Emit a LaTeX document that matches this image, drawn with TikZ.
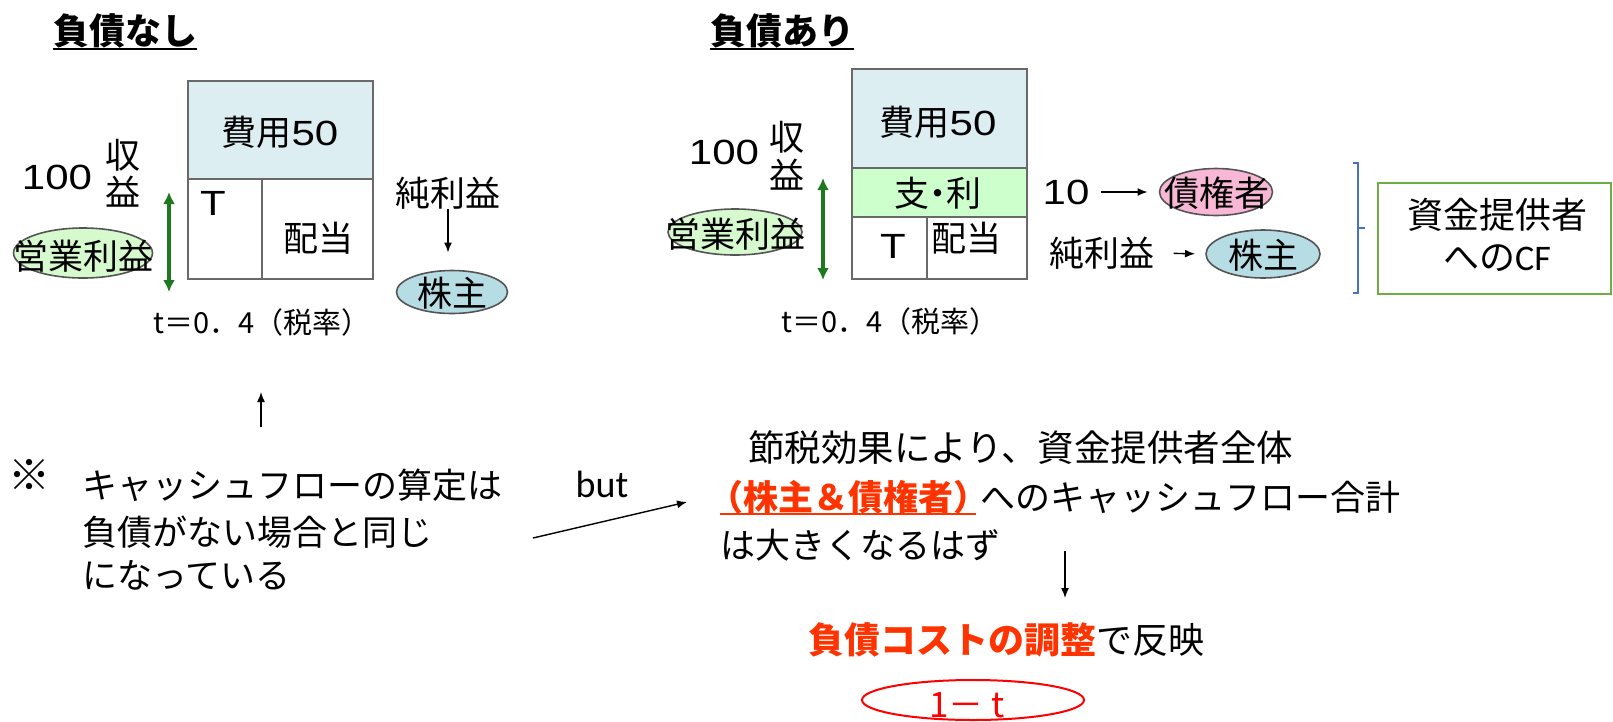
\documentclass[tikz,border=0pt]{standalone}
\usepackage{fontspec}
\setmainfont{Noto Sans CJK JP}
\newfontfamily\fixedjp{Noto Sans CJK JP}
\newfontfamily\propjp{Noto Sans CJK JP}[RawFeature=+palt]
\newfontfamily\latinf{Carlito}
\newfontfamily\widedig{Liberation Sans}[FakeStretch=1.2]
\usetikzlibrary{shapes.geometric,arrows.meta}
\definecolor{costblue}{RGB}{221,238,242}
\definecolor{paygreen}{RGB}{204,255,204}
\definecolor{opgreen}{RGB}{214,250,206}
\definecolor{holderblue}{RGB}{183,221,228}
\definecolor{credpink}{RGB}{249,183,214}
\definecolor{arrowgreen}{RGB}{30,120,30}
\definecolor{emred}{RGB}{255,51,0}
\definecolor{cfgreen}{RGB}{112,173,71}
\definecolor{braceblue}{RGB}{68,114,196}
\definecolor{boxgray}{RGB}{105,105,105}
\begin{document}
\begin{tikzpicture}[x=1pt,y=-1pt,
  every node/.style={inner sep=0pt, outer sep=0pt},
  lbl/.style={font=\fontsize{35pt}{42pt}\selectfont},
  ttl/.style={font=\fontsize{36pt}{42pt}\selectfont\bfseries},
  rate/.style={font=\fixedjp\fontsize{29pt}{34pt}\selectfont},
  cfl/.style={font=\fontsize{36pt}{42pt}\selectfont},
  cellbox/.style={draw=boxgray, line width=1.8pt},
  oval/.style={ellipse, draw=boxgray!80!black, line width=1.6pt},
  greenarr/.style={draw=arrowgreen, line width=4.5pt, {Latex[length=12pt,width=12pt]}-{Latex[length=12pt,width=12pt]}},
  thinarr/.style={draw=black, line width=1.4pt, -{Latex[length=10pt,width=8pt]}},
  ttlline/.style={draw=black, line width=2.2pt}]
\useasboundingbox (0,0) rectangle (1613,721);

% ---------- left panel: no debt ----------
\node[ttl] (ttlA) at (125,31) {負債なし};
\draw[ttlline] ([yshift=-1pt]ttlA.south west) -- ([yshift=-1pt]ttlA.south east);

\node[cellbox, fill=costblue, minimum width=185pt, minimum height=98pt] (costA) at (280.5,130) {};
\node[cellbox, minimum width=74pt, minimum height=100pt] (taxA) at (225,229) {};
\node[cellbox, minimum width=111pt, minimum height=100pt] (divA) at (317.5,229) {};
\node[lbl] (costAt) at (280,132) {費用{\widedig 50}};
\node[lbl] (taxAt) at (213,203) {\widedig T};
\node[lbl] (divAt) at (318,238) {配当};

\node[lbl] (hundA) at (57,177) {\widedig 100};
\node[lbl] (revA1) at (123,155) {収};
\node[lbl] (revA2) at (123,192) {益};
\coordinate (gA1) at (169,192);
\coordinate (gA2) at (169,292);
\draw[greenarr] (gA1) -- (gA2);
\node[oval, fill=opgreen, minimum width=139pt, minimum height=50pt] (opA) at (83,253) {};
\node[lbl] (opAt) at (83,256) {営業利益};

\node[lbl] (netA) at (448,193) {純利益};
\node[oval, fill=holderblue, minimum width=111pt, minimum height=43pt] (shA) at (452,292) {};
\node[lbl] (shAt) at (452,293) {株主};
\draw[thinarr, shorten >=18pt] (netA.south) -- (netA.south |- shA.north);
\node[rate] (rateA) at (262,322) {t＝0．4（税率）};

% ---------- right panel: with debt ----------
\node[ttl] (ttlB) at (782,31) {負債あり};
\draw[ttlline] ([yshift=-1pt]ttlB.south west) -- ([yshift=-1pt]ttlB.south east);

\node[cellbox, fill=costblue, minimum width=175pt, minimum height=99pt] (costB) at (939.5,118.5) {};
\node[cellbox, fill=paygreen, minimum width=175pt, minimum height=49pt] (payB) at (939.5,192.5) {};
\node[cellbox, minimum width=75pt, minimum height=62pt] (taxB) at (889.5,248) {};
\node[cellbox, minimum width=100pt, minimum height=62pt] (divB) at (977,248) {};
\node[lbl] (costBt) at (938,122) {費用{\widedig 50}};
\node[lbl] (payBt) at (938,193) {\propjp 支・利};
\node[lbl] (taxBt) at (893,246) {\widedig T};
\node[lbl] (divBt) at (966,238) {配当};

\node[lbl] (hundB) at (724,152) {\widedig 100};
\node[lbl] (revB1) at (787,137) {収};
\node[lbl] (revB2) at (787,175) {益};
\coordinate (gB1) at (823,178);
\coordinate (gB2) at (823,280);
\draw[greenarr] (gB1) -- (gB2);
\node[oval, fill=opgreen, minimum width=134pt, minimum height=46pt] (opB) at (735,232) {};
\node[lbl] (opBt) at (735,234) {営業利益};

\node[lbl] (tenB) at (1066,192) {\widedig 10};
\node[oval, fill=credpink, minimum width=113pt, minimum height=47pt] (crB) at (1216,192) {};
\node[lbl] (crBt) at (1217,193) {債権者};
\draw[thinarr, shorten <=12pt, shorten >=12pt] (tenB) -- (crB);

\node[lbl] (netB) at (1102,253) {純利益};
\node[oval, fill=holderblue, minimum width=114pt, minimum height=48pt] (shB) at (1263,254) {};
\node[lbl] (shBt) at (1263,255) {株主};
\draw[thinarr, shorten <=19pt, shorten >=11pt] (netB.east) -- (shB.west);
\node[rate] (rateB) at (890,321) {t＝0．4（税率）};

% bracket and CF box
\draw[braceblue, line width=1.3pt] (1353,163) -- (1358,163) -- (1358,293) -- (1353,293);
\draw[braceblue, line width=1.3pt] (1358,228) -- (1365,228);
\node[draw=cfgreen, line width=2.6pt, minimum width=233pt, minimum height=111pt] (cfbox) at (1494.5,238.5) {};
\node[cfl] (cf1) at (1497,215) {資金提供者};
\node[cfl] (cf2) at (1497,258) {への{\latinf CF}};

% ---------- bottom left note ----------
\coordinate (upA1) at (261,427);
\coordinate (upA2) at (261,392);
\draw[thinarr] (upA1) -- (upA2);
\node[font=\fontsize{42pt}{44pt}\selectfont\bfseries] (kome) at (30,475) {※};
\node[lbl, anchor=west] (noteA1) at (82,485) {キャッシュフローの算定は};
\node[lbl, anchor=west] (noteA2) at (82,532) {負債がない場合と同じ};
\node[lbl, anchor=west] (noteA3) at (82,575) {になっている};

\node[font=\latinf\fontsize{38pt}{42pt}\selectfont] (but) at (602,484) {but};
\coordinate (butA) at (533,538);
\coordinate (butB) at (687,502);
\draw[thinarr] (butA) -- (butB);

% ---------- bottom right note ----------
\node[font=\fontsize{36.5pt}{42pt}\selectfont, anchor=west] (noteB1) at (748,448) {節税効果により、資金提供者全体};
\node[anchor=west, text=emred, font=\fontsize{35pt}{42pt}\selectfont\bfseries] (noteB2r) at (708,497) {（株主＆債権者）};
\node[lbl, anchor=west] (noteB2) at ([xshift=-8pt]noteB2r.east) {へのキャッシュフロー合計};
\draw[emred, line width=2pt] ([xshift=12pt,yshift=-4pt]noteB2r.base west) -- ([xshift=-12pt,yshift=-4pt]noteB2r.base east);
\node[lbl, anchor=west] (noteB3) at (720,545) {は大きくなるはず};

\coordinate (dnA) at (1065,551);
\coordinate (dnB) at (1065,598);
\draw[thinarr] (dnA) -- (dnB);

\node[font=\fontsize{36pt}{42pt}\selectfont, anchor=west] (resB) at (808,640) {{\bfseries\color{emred}負債コストの調整}で反映};
\node[ellipse, draw=red, line width=2pt, minimum width=222pt, minimum height=40pt] (oneT) at (973,700) {};
\node[lbl, text=red] (oneTt) at (967,705) {1－ t};
\end{tikzpicture}
\end{document}
